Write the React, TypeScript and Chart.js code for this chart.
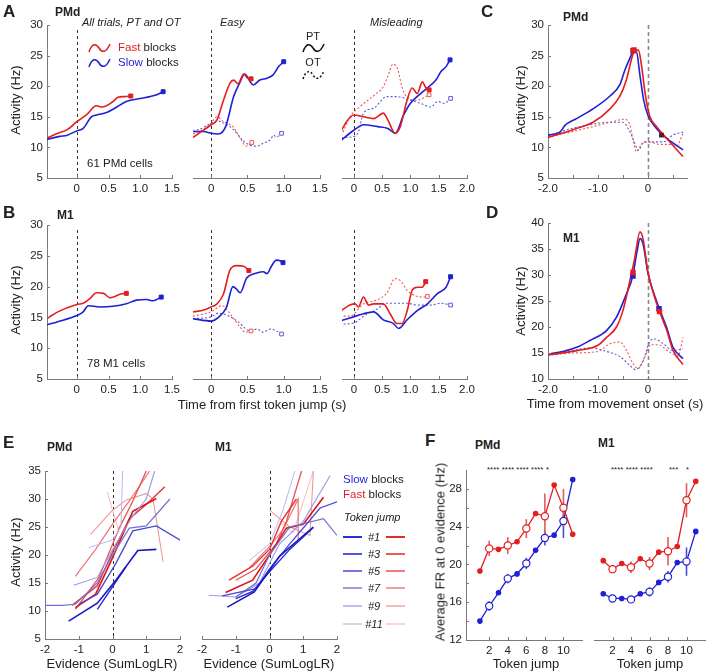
import React, { useEffect, useRef } from 'react';
import { Chart, registerables } from 'chart.js';
Chart.register(...registerables);

const FONT = "'Liberation Sans', Arial, Helvetica, sans-serif";
Chart.defaults.font.family = FONT;
Chart.defaults.font.size = 11;
Chart.defaults.color = '#222';

const RED = '#e31e1e';
const BLUE = '#1f1fd4';
const RED_OT = '#ee5656';
const BLUE_OT = '#5a5ae0';
const AXIS = '#7a7a7a';

// ---------- tick lists ----------
const xTicksA = [0, 0.5, 1, 1.5];
const xTicksA3 = [0, 0.5, 1, 1.5, 2];
const yTicksAB = [5, 10, 15, 20, 25, 30];
const xTicksCD = [-2, -1.5, -1, -0.5, 0, 0.5];
const yTicksD = [10, 15, 20, 25, 30, 35, 40];
const xTicksE = [-2, -1, 0, 1, 2];
const yTicksE = [5, 10, 15, 20, 25, 30, 35];
const xTicksF = [2, 4, 6, 8, 10];
const yTicksF = [12, 14, 16, 18, 20, 22, 24, 26, 28];

// ---------- Panel A (PMd), [time s, rate Hz] ----------
const pmdAllFast = [[-0.47, 11.5], [-0.3, 12.3], [-0.15, 12.9], [0, 14.2], [0.15, 15.3], [0.31, 16.8], [0.4, 16.6], [0.57, 17.5], [0.65, 18.2], [0.75, 18.3], [0.85, 18.4]];
const pmdAllSlow = [[-0.47, 11.3], [-0.27, 11.8], [-0.15, 12.0], [0, 12.7], [0.1, 13.1], [0.23, 15.0], [0.31, 15.3], [0.47, 15.7], [0.63, 16.6], [0.78, 17.5], [1.0, 18.0], [1.15, 18.3], [1.26, 18.6], [1.36, 19.1]];
const pmdEasyFastPT = [[-0.25, 11.6], [-0.17, 12.3], [0, 13.7], [0.08, 14.5], [0.17, 17.7], [0.26, 20.5], [0.31, 21.0], [0.37, 20.4], [0.45, 22.0], [0.5, 21.3], [0.55, 21.2]];
const pmdEasySlowPT = [[-0.25, 12.6], [-0.1, 12.6], [0, 12.3], [0.1, 12.2], [0.2, 13.4], [0.31, 18.3], [0.4, 20.7], [0.46, 22.0], [0.58, 20.2], [0.67, 21.0], [0.77, 21.3], [0.85, 21.8], [0.93, 23.2], [1.0, 24.0]];
const pmdEasyFastOT = [[-0.25, 12.2], [-0.1, 13.0], [0, 14.0], [0.08, 15.0], [0.17, 14.2], [0.3, 13.4], [0.4, 11.5], [0.49, 10.2], [0.56, 10.8]];
const pmdEasySlowOT = [[-0.25, 12.6], [-0.1, 13.3], [0, 14.0], [0.1, 14.3], [0.2, 13.8], [0.3, 13.0], [0.45, 11.0], [0.55, 10.3], [0.63, 10.2], [0.72, 10.7], [0.82, 11.3], [0.86, 12.0], [0.9, 11.7], [0.97, 12.3]];
const pmdMisFastPT = [[-0.22, 12.8], [-0.13, 14.2], [0, 15.3], [0.17, 15.0], [0.35, 14.7], [0.52, 15.6], [0.6, 14.5], [0.73, 12.3], [0.82, 13.4], [0.94, 17.7], [1.03, 19.7], [1.12, 18.8], [1.21, 20.7], [1.27, 19.8], [1.33, 19.4]];
const pmdMisSlowPT = [[-0.22, 11.2], [0, 12.8], [0.17, 13.7], [0.42, 13.4], [0.6, 13.1], [0.73, 12.3], [0.88, 15.3], [1.0, 17.2], [1.18, 18.8], [1.36, 20.2], [1.45, 21.0], [1.54, 22.4], [1.63, 23.2], [1.7, 24.3]];
const pmdMisFastOT = [[-0.22, 11.9], [-0.07, 15.0], [0.1, 16.6], [0.29, 18.0], [0.4, 18.8], [0.52, 19.9], [0.6, 21.6], [0.69, 23.6], [0.77, 22.9], [0.85, 19.9], [0.94, 18.2], [1.12, 17.7], [1.33, 18.6]];
const pmdMisSlowOT = [[-0.22, 11.6], [-0.05, 11.7], [0.07, 12.3], [0.17, 15.6], [0.35, 16.4], [0.58, 18.3], [0.76, 18.3], [1.0, 17.7], [1.18, 17.2], [1.36, 16.6], [1.48, 17.5], [1.6, 17.2], [1.71, 18.0]];

// ---------- Panel B (M1) ----------
const m1AllFast = [[-0.47, 14.8], [-0.3, 15.9], [0, 17.1], [0.1, 17.3], [0.2, 18.0], [0.31, 19.0], [0.42, 18.9], [0.52, 18.2], [0.6, 18.4], [0.69, 18.8], [0.78, 18.9]];
const m1AllSlow = [[-0.47, 13.8], [-0.3, 14.3], [0, 15.3], [0.1, 15.9], [0.18, 16.9], [0.36, 16.7], [0.57, 16.8], [0.78, 17.2], [0.94, 17.8], [1.1, 17.9], [1.2, 17.7], [1.33, 18.3]];
const m1EasyFastPT = [[-0.25, 15.9], [-0.1, 16.2], [0, 16.7], [0.08, 17.2], [0.17, 18.8], [0.26, 22.7], [0.35, 23.4], [0.45, 23.3], [0.52, 22.6]];
const m1EasySlowPT = [[-0.25, 14.8], [0, 14.4], [0.1, 15.0], [0.21, 16.6], [0.3, 20.0], [0.35, 19.6], [0.4, 19.0], [0.49, 21.4], [0.63, 22.2], [0.72, 22.4], [0.77, 22.1], [0.83, 23.3], [0.9, 24.3], [0.95, 24.2], [0.99, 23.9]];
const m1EasyFastOT = [[-0.25, 15.2], [0, 15.9], [0.15, 16.9], [0.26, 15.6], [0.4, 13.4], [0.47, 12.6], [0.55, 12.8]];
const m1EasySlowOT = [[-0.25, 14.8], [0, 15.1], [0.1, 15.7], [0.26, 15.1], [0.4, 14.0], [0.45, 13.4], [0.54, 12.8], [0.63, 13.1], [0.72, 12.6], [0.81, 13.1], [0.9, 12.8], [0.97, 12.3]];
const m1MisFastPT = [[-0.25, 15.9], [-0.07, 17.0], [0.02, 17.2], [0.08, 16.7], [0.17, 18.3], [0.26, 17.0], [0.35, 17.2], [0.52, 17.2], [0.64, 15.6], [0.76, 14.0], [0.85, 14.0], [0.94, 16.0], [1.03, 19.4], [1.12, 19.9], [1.21, 19.9], [1.27, 20.8]];
const m1MisSlowPT = [[-0.25, 14.4], [-0.07, 14.9], [0.17, 15.6], [0.35, 15.9], [0.52, 14.6], [0.7, 14.0], [0.79, 13.2], [0.94, 14.6], [1.12, 16.1], [1.3, 17.2], [1.48, 18.9], [1.63, 19.9], [1.71, 21.6]];
const m1MisFastOT = [[-0.25, 15.2], [-0.07, 15.2], [0.17, 17.2], [0.4, 17.8], [0.58, 18.9], [0.73, 21.3], [0.82, 21.0], [0.94, 19.4], [1.06, 18.6], [1.21, 18.3], [1.3, 18.4]];
const m1MisSlowOT = [[-0.25, 13.9], [0, 14.1], [0.17, 15.2], [0.4, 16.3], [0.58, 17.3], [0.76, 17.3], [0.94, 17.3], [1.12, 17.0], [1.36, 17.0], [1.54, 17.3], [1.71, 17.0]];

// ---------- Panel C (PMd, movement aligned) ----------
const cSlowPT = [[-2, 12.0], [-1.76, 12.5], [-1.66, 13.6], [-1.43, 14.7], [-1.1, 16.3], [-0.76, 18.4], [-0.56, 20.3], [-0.46, 22.7], [-0.36, 24.6], [-0.29, 25.7], [-0.23, 25.6], [-0.16, 21.7], [-0.09, 17.9], [0, 15.2], [0.17, 13.1], [0.37, 11.5], [0.7, 9.6]];
const cFastPT = [[-2, 11.6], [-1.43, 13.1], [-1.1, 14.1], [-0.76, 16.3], [-0.56, 18.4], [-0.43, 21.1], [-0.33, 24.4], [-0.27, 25.8], [-0.19, 25.9], [-0.13, 23.4], [-0.06, 19.0], [0.03, 15.2], [0.17, 13.4], [0.37, 11.5], [0.7, 8.5]];
const cFastOT = [[-2, 11.6], [-1.7, 12.2], [-1.1, 13.4], [-0.76, 14.1], [-0.46, 14.6], [-0.36, 13.6], [-0.29, 10.9], [-0.23, 9.3], [-0.13, 10.5], [0.03, 10.9], [0.23, 10.5], [0.4, 10.5], [0.57, 10.2], [0.7, 12.3]];
const cSlowOT = [[-2, 11.8], [-1.7, 12.7], [-1.23, 13.6], [-0.76, 14.1], [-0.5, 14.1], [-0.36, 12.5], [-0.29, 11.2], [-0.19, 9.5], [-0.09, 10.9], [0.1, 10.9], [0.3, 10.9], [0.5, 12.0], [0.7, 12.5]];
const cFastMarks = [[-0.28, 25.9]];
const cSlowMarks = [[-0.3, 25.8]];
const cEndMarks = [[0.27, 12.0]];

// ---------- Panel D (M1, movement aligned) ----------
const dSlowPT = [[-2, 14.8], [-1.7, 15.3], [-1.4, 16.2], [-1.16, 17.4], [-0.83, 19.3], [-0.63, 21.9], [-0.43, 26.4], [-0.31, 29.6], [-0.22, 34.5], [-0.16, 37.0], [-0.1, 36.0], [0, 30.3], [0.14, 25.8], [0.24, 23.2], [0.37, 20.0], [0.5, 16.1], [0.7, 13.9]];
const dFastPT = [[-2, 14.6], [-1.4, 15.5], [-1.0, 16.5], [-0.83, 18.0], [-0.63, 20.0], [-0.5, 23.2], [-0.36, 29.0], [-0.27, 33.0], [-0.16, 38.3], [-0.1, 37.0], [0, 30.5], [0.14, 25.5], [0.25, 22.5], [0.37, 19.5], [0.5, 15.5], [0.7, 12.8]];
const dFastOT = [[-2, 14.6], [-1.5, 15.0], [-1.0, 15.3], [-0.76, 16.8], [-0.56, 17.1], [-0.43, 15.5], [-0.3, 13.0], [-0.2, 12.0], [-0.05, 14.5], [0.05, 16.6], [0.2, 16.6], [0.4, 15.4], [0.6, 14.4], [0.7, 18.0]];
const dSlowOT = [[-2, 14.8], [-1.5, 15.5], [-1.16, 16.0], [-0.83, 15.3], [-0.56, 14.3], [-0.35, 12.5], [-0.25, 11.8], [-0.1, 13.5], [0.03, 17.1], [0.14, 17.7], [0.3, 16.8], [0.5, 15.5], [0.7, 15.8]];
const dFastMarks = [[-0.3, 30.5], [0.23, 23.0]];
const dSlowMarks = [[-0.3, 29.8], [0.22, 23.5]];

// ---------- Panel E (evidence tuning), [SumLogLR, Hz] per token jump #1..#11 ----------
const tokenJumps = ['#1', '#3', '#5', '#7', '#9', '#11'];
const ePmdSlow = [
  [[-1.3, 8.2], [-0.45, 11.4], [0.1, 15.5], [0.75, 20.8], [1.3, 21.0]],
  [[-0.45, 10.3], [0.4, 17.9]],
  [[-1.0, 11.2], [-0.45, 13.0], [0.1, 18.5], [0.6, 24.3], [1.3, 25.2], [2.1, 22.3]],
  [[-2, 11.0], [-1.5, 11.0], [-1.1, 11.2], [-0.45, 15.0], [0, 20.0], [0.5, 24.8], [1.0, 25.2], [1.7, 30.0]],
  [[-1.15, 14.6], [-0.45, 16.0], [0.1, 22.0], [0.6, 27.0], [1.0, 30.0], [1.25, 35.0]],
  [[-0.7, 21.3], [0, 22.7], [0.25, 25.0], [0.3, 35.0]],
];
const ePmdFast = [
  [[-1.1, 10.6], [-0.5, 13.0], [0, 19.5], [0.6, 27.8], [1.3, 30.1]],
  [[-1.2, 11.0], [-0.45, 14.5], [0, 20.5], [0.5, 26.5], [1.0, 29.0], [1.55, 32.2]],
  [[-1.1, 10.3], [-0.4, 16.0], [0.2, 24.8], [0.6, 29.6], [1.0, 35.0]],
  [[-1.1, 16.2], [-0.5, 21.0], [0, 25.5], [0.6, 30.5], [1.1, 35.0]],
  [[-0.65, 23.7], [0, 28.0], [0.4, 29.8], [1.0, 31.0], [1.2, 30.0], [1.5, 18.8]],
  [[-0.15, 31.2], [0, 28.0], [0.2, 24.0]],
];
const eM1Slow = [
  [[-1.25, 10.7], [-0.45, 13.4], [0.3, 19.8], [1.3, 25.0]],
  [[-1.0, 12.2], [-0.5, 13.5], [0, 17.0], [0.6, 21.0], [1.3, 24.9]],
  [[-1.4, 12.7], [-0.4, 14.0], [0, 17.5], [0.6, 22.0], [1.5, 28.4], [2.0, 29.5]],
  [[-1.0, 12.5], [-0.4, 15.0], [0, 20.0], [0.6, 25.0], [1.6, 26.5], [2.0, 23.5]],
  [[-1.8, 12.8], [-1.0, 12.5], [-0.3, 15.0], [0.3, 22.0], [1.0, 26.0], [1.8, 34.2]],
  [[-0.6, 19.0], [0, 22.0], [0.4, 28.0], [0.75, 35.0]],
];
const eM1Fast = [
  [[-1.3, 13.3], [-0.5, 15.5], [0, 20.0], [0.5, 24.8], [1.0, 25.5], [1.6, 30.3]],
  [[-1.2, 15.5], [-0.5, 18.0], [0, 21.0], [0.35, 26.0], [0.8, 30.0]],
  [[-1.0, 15.5], [-0.4, 17.5], [0.2, 22.0], [0.5, 26.0], [0.95, 35.0]],
  [[-0.6, 17.7], [0, 21.5], [0.4, 24.5], [0.85, 30.0], [0.85, 22.7]],
  [[0, 28.0], [0.6, 25.0], [1.2, 23.5], [1.3, 35.0]],
  [[0.3, 26.0], [0.7, 24.0], [1.3, 35.0]],
];
const eSlowShades = ['#1818c8', '#2b2bcd', '#4747d4', '#7070dc', '#9898e6', '#b8b8f0'];
const eFastShades = ['#e01414', '#e43434', '#e85252', '#ec7474', '#f09898', '#f5baba'];
const eWidths = [1.8, 1.6, 1.5, 1.4, 1.3, 1.2];

// ---------- Panel F, [token jump, Hz] and [token jump, s.e.m.] ----------
const fPmdFast = [[1, 19.3], [2, 21.7], [3, 21.6], [4, 22.0], [5, 22.4], [6, 23.8], [7, 25.4], [8, 25.1], [9, 28.4], [10, 26.0], [11, 23.2]];
const fPmdSlow = [[1, 14.0], [2, 15.6], [3, 17.0], [4, 18.5], [5, 19.0], [6, 20.1], [7, 21.5], [8, 22.8], [9, 23.1], [10, 24.6], [11, 29.0]];
const fM1Fast = [[1, 20.4], [2, 19.5], [3, 20.1], [4, 19.7], [5, 20.6], [6, 20.1], [7, 21.3], [8, 21.4], [9, 21.9], [10, 26.8], [11, 28.8]];
const fM1Slow = [[1, 16.9], [2, 16.4], [3, 16.4], [4, 16.3], [5, 16.9], [6, 17.1], [7, 18.1], [8, 18.7], [9, 20.2], [10, 20.3], [11, 23.5]];
const fPmdFastErr = [[2, 0.8], [4, 0.9], [6, 1.0], [8, 2.4], [10, 2.0]];
const fPmdSlowErr = [[2, 0.5], [4, 0.5], [6, 0.6], [8, 0.8], [10, 1.8]];
const fM1FastErr = [[2, 0.4], [4, 0.6], [6, 0.7], [8, 1.5], [10, 1.8]];
const fM1SlowErr = [[2, 0.3], [4, 0.3], [6, 0.5], [8, 0.6], [10, 1.5]];

// ---------- helpers ----------
const ML = 40, MT = 8, MR = 14, MB = 22;

function mk(pts: number[][], color: string, o: any = {}) {
  return {
    data: pts.map((p) => ({ x: p[0], y: p[1] })),
    borderColor: color,
    backgroundColor: color,
    borderWidth: 1.5,
    pointRadius: 0,
    pointHoverRadius: 0,
    tension: 0.3,
    cubicInterpolationMode: 'monotone',
    fill: false,
    ...o,
  };
}
function curve(pts: number[][], color: string, ot: boolean, endMark = true) {
  const last = pts.length - 1;
  return mk(pts, color, {
    borderDash: ot ? [2, 2] : [],
    borderWidth: ot ? 1.1 : 1.6,
    pointStyle: 'rect',
    pointRadius: pts.map((_, i) => (endMark && i === last ? (ot ? 2.6 : 2.8) : 0)),
    pointBackgroundColor: ot ? '#ffffff' : color,
    pointBorderColor: color,
    pointBorderWidth: 1,
    order: ot ? 3 : 1,
  });
}
function marks(pts: number[][], color: string, style = 'rect', r = 2.8) {
  return mk(pts, color, { showLine: false, pointStyle: style, pointRadius: r, pointBackgroundColor: color, pointBorderColor: color, order: 0 });
}
function fSeries(pts: number[][], color: string) {
  return mk(pts, color, {
    tension: 0,
    cubicInterpolationMode: 'default',
    borderWidth: 1.3,
    pointStyle: 'circle',
    pointRadius: pts.map((p) => (p[0] % 2 === 0 ? 3.6 : 2.2)),
    pointBackgroundColor: pts.map((p) => (p[0] % 2 === 0 ? '#ffffff' : color)),
    pointBorderColor: color,
    pointBorderWidth: 1.2,
    order: 1,
  });
}
function fErr(series: number[][], errs: number[][], color: string) {
  return errs.map(([k, e]) => {
    const v = series.find((p) => p[0] === k)![1];
    return mk([[k, v - e], [k, v + e]], color, { tension: 0, cubicInterpolationMode: 'default', borderWidth: 1.6, order: 2 });
  });
}
function eSets(lines: number[][][], shades: string[]) {
  return lines.map((l, i) => mk(l, shades[i], { tension: 0, cubicInterpolationMode: 'default', borderWidth: eWidths[i] - 0.2 }));
}

const inTicks = {
  id: 'inTicks',
  afterDraw(chart: any) {
    const { ctx, chartArea: a } = chart;
    ctx.save();
    ctx.strokeStyle = AXIS;
    ctx.lineWidth = 1;
    const xs = chart.scales.x, ys = chart.scales.y;
    if (xs && xs.options.display) {
      for (const t of xs.ticks) {
        const p = Math.round(xs.getPixelForValue(t.value)) + 0.5;
        ctx.beginPath(); ctx.moveTo(p, a.bottom); ctx.lineTo(p, a.bottom - 3); ctx.stroke();
      }
    }
    if (ys && ys.options.display) {
      for (const t of ys.ticks) {
        const p = Math.round(ys.getPixelForValue(t.value)) + 0.5;
        ctx.beginPath(); ctx.moveTo(a.left, p); ctx.lineTo(a.left + 3, p); ctx.stroke();
      }
    }
    ctx.restore();
  },
};
const zeroLine = {
  id: 'zeroLine',
  beforeDatasetsDraw(chart: any, _args: any, opts: any) {
    if (!opts || !opts.color) return;
    const { ctx, chartArea: a } = chart;
    const x = Math.round(chart.scales.x.getPixelForValue(0)) + 0.5;
    ctx.save();
    ctx.strokeStyle = opts.color;
    ctx.lineWidth = opts.width;
    ctx.setLineDash(opts.dash);
    ctx.beginPath(); ctx.moveTo(x, a.top + (opts.topGap || 0)); ctx.lineTo(x, a.bottom); ctx.stroke();
    ctx.restore();
  },
};

interface Spec {
  box: [number, number, number, number];
  x: [number, number];
  y: [number, number];
  xTicks: number[];
  xFmt: (v: number) => string;
  yTicks?: number[];
  yFmt?: (v: number) => string;
  datasets: any[];
  zero?: any;
}

function config(s: Spec): any {
  const hasY = !!s.yTicks;
  return {
    type: 'line',
    data: { datasets: s.datasets },
    options: {
      responsive: false,
      animation: false,
      events: [],
      layout: { autoPadding: false, padding: { left: hasY ? 0 : ML, top: MT, right: MR, bottom: 0 } },
      plugins: { legend: { display: false }, tooltip: { enabled: false }, zeroLine: s.zero || false },
      scales: {
        x: {
          type: 'linear', min: s.x[0], max: s.x[1],
          afterBuildTicks: (sc: any) => { sc.ticks = s.xTicks.map((v) => ({ value: v })); },
          afterFit: (sc: any) => { sc.height = MB; sc.paddingLeft = 0; sc.paddingRight = 0; sc.paddingTop = 0; sc.paddingBottom = 0; },
          ticks: { callback: (v: any) => s.xFmt(Number(v)), autoSkip: false, maxRotation: 0, minRotation: 0, padding: 4, color: '#222', font: { size: 11.5 } },
          grid: { display: false, drawTicks: false },
          border: { display: true, color: AXIS, width: 1 },
        },
        y: hasY
          ? {
              type: 'linear', min: s.y[0], max: s.y[1],
              afterBuildTicks: (sc: any) => { sc.ticks = s.yTicks!.map((v) => ({ value: v })); },
              afterFit: (sc: any) => { sc.width = ML; sc.paddingTop = 0; sc.paddingBottom = 0; sc.paddingLeft = 0; sc.paddingRight = 0; },
              ticks: { callback: (v: any) => (s.yFmt ? s.yFmt(Number(v)) : String(v)), autoSkip: false, padding: 4, color: '#222', font: { size: 11.5 } },
              grid: { display: false, drawTicks: false },
              border: { display: true, color: AXIS, width: 1 },
            }
          : { type: 'linear', display: false, min: s.y[0], max: s.y[1] },
      },
    },
    plugins: [inTicks, zeroLine],
  };
}

function Panel({ s }: { s: Spec }) {
  const ref = useRef<HTMLCanvasElement>(null);
  useEffect(() => {
    const chart = new Chart(ref.current as HTMLCanvasElement, config(s));
    return () => chart.destroy();
  }, []);
  const [l, t, r, b] = s.box;
  const w = r - l + ML + MR, h = b - t + MT + MB;
  return <canvas ref={ref} width={w} height={h} style={{ position: 'absolute', left: l - ML, top: t - MT, width: w, height: h }} />;
}

const fmtA = (v: number) => (v === 0 ? '0' : v.toFixed(1));
const fmtCD = (v: number) => (v === 0 ? '0' : Number.isInteger(v) && v < 0 ? v.toFixed(1) : '');
const fmtInt = (v: number) => String(v);
const fmtFy = (v: number) => (v % 4 === 0 ? String(v) : '');
const dashAB = { color: '#333', width: 1, dash: [3, 3], topGap: 5 };
const dashE = { color: '#333', width: 1, dash: [3, 3] };
const dashC = { color: '#8a8a8a', width: 1.6, dash: [4, 3] };

const ptSets = (fp: number[][], sp: number[][], fo: number[][], so: number[][], end = true) => [
  curve(fp, RED, false, end), curve(sp, BLUE, false, end), curve(fo, RED_OT, true, end), curve(so, BLUE_OT, true, end),
];

const specs: Spec[] = [
  { box: [47, 25, 172, 178], x: [-0.47, 1.5], y: [5, 30], xTicks: xTicksA, xFmt: fmtA, yTicks: yTicksAB, yFmt: fmtInt, zero: dashAB,
    datasets: [curve(pmdAllFast, RED, false), curve(pmdAllSlow, BLUE, false)] },
  { box: [193, 25, 320, 178], x: [-0.25, 1.5], y: [5, 30], xTicks: xTicksA, xFmt: fmtA, zero: dashAB,
    datasets: ptSets(pmdEasyFastPT, pmdEasySlowPT, pmdEasyFastOT, pmdEasySlowOT) },
  { box: [342, 25, 467, 178], x: [-0.21, 2.0], y: [5, 30], xTicks: xTicksA3, xFmt: fmtA, zero: dashAB,
    datasets: ptSets(pmdMisFastPT, pmdMisSlowPT, pmdMisFastOT, pmdMisSlowOT) },
  { box: [47, 225, 172, 379], x: [-0.47, 1.5], y: [5, 30], xTicks: xTicksA, xFmt: fmtA, yTicks: yTicksAB, yFmt: fmtInt, zero: dashAB,
    datasets: [curve(m1AllFast, RED, false), curve(m1AllSlow, BLUE, false)] },
  { box: [193, 225, 320, 379], x: [-0.25, 1.5], y: [5, 30], xTicks: xTicksA, xFmt: fmtA, zero: dashAB,
    datasets: ptSets(m1EasyFastPT, m1EasySlowPT, m1EasyFastOT, m1EasySlowOT) },
  { box: [342, 225, 467, 379], x: [-0.21, 2.0], y: [5, 30], xTicks: xTicksA3, xFmt: fmtA, zero: dashAB,
    datasets: ptSets(m1MisFastPT, m1MisSlowPT, m1MisFastOT, m1MisSlowOT) },
  { box: [548, 25, 687, 178], x: [-2, 0.78], y: [5, 30], xTicks: xTicksCD, xFmt: fmtCD, yTicks: yTicksAB, yFmt: fmtInt, zero: dashC,
    datasets: [...ptSets(cFastPT, cSlowPT, cFastOT, cSlowOT, false), marks(cFastMarks, RED), marks(cSlowMarks, '#a01a3a'), marks(cEndMarks, '#5a1a2a', 'rect', 2.4)] },
  { box: [548, 223, 687, 379], x: [-2, 0.78], y: [10, 40], xTicks: xTicksCD, xFmt: fmtCD, yTicks: yTicksD, yFmt: fmtInt, zero: dashC,
    datasets: [...ptSets(dFastPT, dSlowPT, dFastOT, dSlowOT, false), marks(dFastMarks, RED), marks(dSlowMarks, BLUE)] },
  { box: [45, 471, 180, 639], x: [-2, 2], y: [5, 35], xTicks: xTicksE, xFmt: fmtInt, yTicks: yTicksE, yFmt: fmtInt, zero: dashE,
    datasets: [...eSets(ePmdSlow, eSlowShades), ...eSets(ePmdFast, eFastShades)] },
  { box: [202, 471, 337, 639], x: [-2, 2], y: [5, 35], xTicks: xTicksE, xFmt: fmtInt, zero: dashE,
    datasets: [...eSets(eM1Slow, eSlowShades), ...eSets(eM1Fast, eFastShades)] },
  { box: [466, 470, 582, 640], x: [-0.5, 12], y: [12, 30], xTicks: xTicksF, xFmt: fmtInt, yTicks: yTicksF, yFmt: fmtFy,
    datasets: [fSeries(fPmdFast, RED), fSeries(fPmdSlow, BLUE), ...fErr(fPmdFast, fPmdFastErr, '#e35a5a'), ...fErr(fPmdSlow, fPmdSlowErr, '#4a4ad8')] },
  { box: [594, 470, 705, 640], x: [0, 12], y: [12, 30], xTicks: xTicksF, xFmt: fmtInt,
    datasets: [fSeries(fM1Fast, RED), fSeries(fM1Slow, BLUE), ...fErr(fM1Fast, fM1FastErr, '#e35a5a'), ...fErr(fM1Slow, fM1SlowErr, '#4a4ad8')] },
];

function T(p: { x: number; y: number; children: any; size?: number; bold?: boolean; italic?: boolean; color?: string; anchor?: 'start' | 'middle' | 'end'; rot?: number }) {
  const tx = p.anchor === 'middle' ? '-50%' : p.anchor === 'end' ? '-100%' : '0';
  return (
    <div
      style={{
        position: 'absolute', left: p.x, top: p.y, whiteSpace: 'nowrap', lineHeight: 1,
        fontSize: p.size ?? 11, fontWeight: p.bold ? 700 : 400, fontStyle: p.italic ? 'italic' : 'normal',
        color: p.color ?? '#222', fontFamily: FONT,
        transform: `translate(${p.rot ? '-50%' : tx},-50%)${p.rot ? ` rotate(${p.rot}deg)` : ''}`,
      }}
    >
      {p.children}
    </div>
  );
}

function Wave({ x, y, color, dotted }: { x: number; y: number; color: string; dotted?: boolean }) {
  return (
    <svg style={{ position: 'absolute', left: x, top: y }} width={24} height={12}>
      <path d="M1,10 C4,1 8,1 11,6 C14,11 18,11 22,2" stroke={color} strokeWidth={1.5} fill="none" strokeDasharray={dotted ? '2 2' : undefined} />
    </svg>
  );
}

export default function App() {
  const legendRows = [537, 554, 571, 588, 606, 624];
  return (
    <div style={{ position: 'absolute', left: 0, top: 0, width: 706, height: 672, overflow: 'hidden', background: '#fff', fontFamily: FONT }}>
      {specs.map((s, i) => <Panel key={i} s={s} />)}

      {/* panel letters */}
      <T x={3} y={11} size={17} bold>A</T>
      <T x={3} y={212} size={17} bold>B</T>
      <T x={481} y={11} size={17} bold>C</T>
      <T x={486} y={212} size={17} bold>D</T>
      <T x={3} y={442} size={17} bold>E</T>
      <T x={425} y={440} size={17} bold>F</T>

      {/* titles */}
      <T x={55} y={12} size={12} bold>PMd</T>
      <T x={82} y={22} italic>All trials, PT and OT</T>
      <T x={220} y={22} italic>Easy</T>
      <T x={370} y={22} italic>Misleading</T>
      <T x={57} y={215} size={12} bold>M1</T>
      <T x={563} y={17} size={12} bold>PMd</T>
      <T x={563} y={238} size={12} bold>M1</T>
      <T x={47} y={447} size={12} bold>PMd</T>
      <T x={215} y={447} size={12} bold>M1</T>
      <T x={475} y={445} size={12} bold>PMd</T>
      <T x={598} y={443} size={12} bold>M1</T>

      {/* axis titles */}
      <T x={15} y={100} size={13} rot={-90}>Activity (Hz)</T>
      <T x={15} y={300} size={13} rot={-90}>Activity (Hz)</T>
      <T x={520} y={100} size={13} rot={-90}>Activity (Hz)</T>
      <T x={520} y={301} size={13} rot={-90}>Activity (Hz)</T>
      <T x={15} y={552} size={13} rot={-90}>Activity (Hz)</T>
      <T x={440} y={552} size={13} rot={-90}>Average FR at 0 evidence (Hz)</T>
      <T x={262} y={404} size={13} anchor="middle">Time from first token jump (s)</T>
      <T x={615} y={403} size={13} anchor="middle">Time from movement onset (s)</T>
      <T x={112} y={663} size={13} anchor="middle">Evidence (SumLogLR)</T>
      <T x={269} y={663} size={13} anchor="middle">Evidence (SumLogLR)</T>
      <T x={526} y={663} size={13} anchor="middle">Token jump</T>
      <T x={650} y={663} size={13} anchor="middle">Token jump</T>

      {/* annotations */}
      <T x={87} y={164} size={11.5}>61 PMd cells</T>
      <T x={87} y={364} size={11.5}>78 M1 cells</T>

      {/* A legend */}
      <Wave x={88} y={42} color={RED} />
      <T x={118} y={48} size={11.5}><span style={{ color: RED }}>Fast</span> blocks</T>
      <Wave x={88} y={57} color={BLUE} />
      <T x={118} y={63} size={11.5}><span style={{ color: BLUE }}>Slow</span> blocks</T>
      <T x={313} y={36} size={11} anchor="middle">PT</T>
      <Wave x={302} y={42} color="#111" />
      <T x={313} y={62} size={11} anchor="middle">OT</T>
      <Wave x={302} y={69} color="#111" dotted />

      {/* E legend */}
      <T x={343} y={480} size={11.5}><span style={{ color: BLUE }}>Slow</span> blocks</T>
      <T x={343} y={495} size={11.5}><span style={{ color: RED }}>Fast</span> blocks</T>
      <T x={344} y={517} size={11} italic>Token jump</T>
      <svg style={{ position: 'absolute', left: 340, top: 525 }} width={70} height={110}>
        {legendRows.map((ry, i) => (
          <g key={i}>
            <line x1={3} x2={22} y1={ry - 525} y2={ry - 525} stroke={eSlowShades[i]} strokeWidth={eWidths[i]} />
            <line x1={46} x2={65} y1={ry - 525} y2={ry - 525} stroke={eFastShades[i]} strokeWidth={eWidths[i]} />
          </g>
        ))}
      </svg>
      {tokenJumps.map((t, i) => (
        <T key={t} x={374} y={legendRows[i]} size={11} italic anchor="middle">{t}</T>
      ))}

      {/* significance stars */}
      <T x={487} y={470} size={8}>**** **** **** ****</T>
      <T x={546} y={470} size={8}>*</T>
      <T x={611} y={470} size={8}>**** **** ****</T>
      <T x={669} y={470} size={8}>***</T>
      <T x={686} y={470} size={8}>*</T>
    </div>
  );
}
